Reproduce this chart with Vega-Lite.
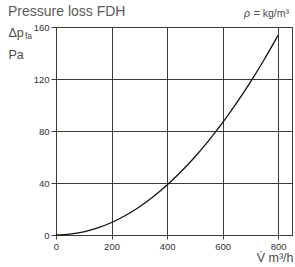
{
  "$schema": "https://vega.github.io/schema/vega-lite/v6.json",
  "width": 236,
  "height": 208,
  "autosize": {"type": "none"},
  "padding": {"left": 56, "top": 27, "right": 3, "bottom": 32},
  "background": "white",
  "title": {
    "text": "Pressure loss FDH",
    "anchor": "start",
    "frame": "group",
    "dx": -48,
    "offset": -21,
    "fontSize": 14,
    "fontWeight": "normal",
    "font": "Liberation Sans",
    "color": "#5a5a5a",
    "baseline": "alphabetic"
  },
  "config": {
    "font": "Liberation Sans",
    "view": {"stroke": "#3c3c3c", "strokeWidth": 1}
  },
  "data": {
    "values": [
      {"V": 0, "dp": 0},
      {"V": 50, "dp": 0.6},
      {"V": 100, "dp": 2.4},
      {"V": 150, "dp": 5.4},
      {"V": 200, "dp": 9.6},
      {"V": 250, "dp": 15},
      {"V": 300, "dp": 21.6},
      {"V": 350, "dp": 29.4},
      {"V": 400, "dp": 38.4},
      {"V": 450, "dp": 48.6},
      {"V": 500, "dp": 60},
      {"V": 550, "dp": 72.6},
      {"V": 600, "dp": 86.4},
      {"V": 650, "dp": 101.4},
      {"V": 700, "dp": 117.6},
      {"V": 750, "dp": 135},
      {"V": 800, "dp": 153.6}
    ]
  },
  "layer": [
    {
      "mark": {"type": "line", "color": "#111111", "strokeWidth": 1.3, "interpolate": "monotone"},
      "encoding": {
        "x": {
          "field": "V", "type": "quantitative",
          "scale": {"domain": [0, 850], "nice": false, "zero": false},
          "axis": {
            "values": [0, 100, 200, 300, 400, 500, 600, 700, 800],
            "labelExpr": "datum.value % 200 === 0 ? datum.label : ''",
            "grid": true, "gridColor": "#3c3c3c", "gridWidth": 1, "gridOpacity": 1,
            "domainColor": "#3c3c3c", "domainWidth": 1,
            "tickColor": "#3c3c3c", "tickSize": 4, "tickWidth": 1,
            "tickOpacity": {"condition": {"test": "datum.value % 200 === 0", "value": 1}, "value": 0},
            "labelFontSize": 9.5, "labelColor": "#333333", "labelPadding": 2, "labelFlush": false,
            "title": "V̇ m³/h",
            "titleFontSize": 12.5, "titleFontWeight": "normal", "titleColor": "#4a4a4a",
            "titleAnchor": "end", "titleAlign": "right", "titleBaseline": "alphabetic",
            "titleX": 237, "titleY": 26
          }
        },
        "y": {
          "field": "dp", "type": "quantitative",
          "scale": {"domain": [0, 160], "nice": false},
          "axis": {
            "values": [0, 20, 40, 60, 80, 100, 120, 140, 160],
            "labelExpr": "datum.value % 40 === 0 ? datum.label : ''",
            "grid": true, "gridColor": "#3c3c3c", "gridWidth": 1, "gridOpacity": 1,
            "domainColor": "#3c3c3c", "domainWidth": 1,
            "tickColor": "#3c3c3c", "tickSize": 5, "tickWidth": 1,
            "tickOpacity": {"condition": {"test": "datum.value % 40 === 0", "value": 1}, "value": 0},
            "labelFontSize": 9.5, "labelColor": "#333333", "labelPadding": 2, "labelFlush": false,
            "title": ["Δp", "Pa"],
            "titleFontSize": 12.5, "titleFontWeight": "normal", "titleColor": "#4a4a4a",
            "titleAngle": 0, "titleAlign": "left", "titleBaseline": "alphabetic",
            "titleLineHeight": 22.5,
            "titleX": -48, "titleY": 9
          }
        }
      }
    },
    {
      "data": {"values": [{}]},
      "mark": {"type": "text", "text": "fa", "fontSize": 8.5, "color": "#4a4a4a", "align": "left", "baseline": "alphabetic", "dx": -31, "dy": 11.5},
      "encoding": {"x": {"datum": 0, "type": "quantitative"}, "y": {"datum": 160, "type": "quantitative"}}
    },
    {
      "data": {"values": [{}]},
      "mark": {"type": "text", "text": " = kg/m³", "fontSize": 10.5, "color": "#4a4a4a", "align": "right", "baseline": "alphabetic", "dx": -3, "dy": -10.5},
      "encoding": {"x": {"datum": 850, "type": "quantitative"}, "y": {"datum": 160, "type": "quantitative"}}
    },
    {
      "data": {"values": [{}]},
      "mark": {"type": "text", "text": "ρ", "fontSize": 10.5, "fontStyle": "italic", "color": "#4a4a4a", "align": "right", "baseline": "alphabetic", "dx": -42, "dy": -10.5},
      "encoding": {"x": {"datum": 850, "type": "quantitative"}, "y": {"datum": 160, "type": "quantitative"}}
    }
  ]
}
